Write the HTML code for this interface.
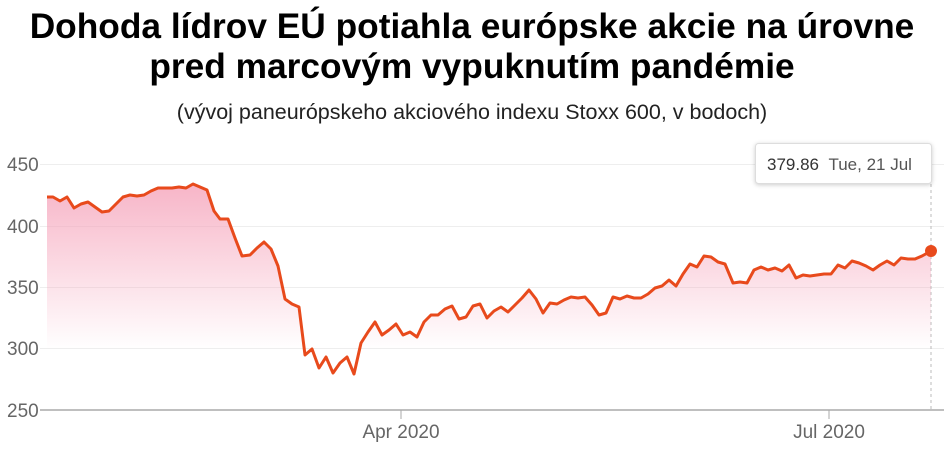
<!DOCTYPE html>
<html><head><meta charset="utf-8"><style>
body{margin:0;width:944px;height:454px;background:#fff;overflow:hidden;font-family:"Liberation Sans",Arial,sans-serif}
.t{position:absolute;left:0;width:944px;text-align:center;font-weight:bold;font-size:35.3px;line-height:40px;top:7px;color:#000;white-space:nowrap}
.s{position:absolute;left:0;width:944px;text-align:center;font-size:21.5px;top:100px;color:#222;white-space:nowrap}
</style></head><body>
<div class="t">Dohoda lídrov EÚ potiahla európske akcie na úrovne<br>pred marcovým vypuknutím pandémie</div>
<div class="s">(vývoj paneurópskeho akciového indexu Stoxx 600, v bodoch)</div>
<svg width="944" height="454" style="position:absolute;left:0;top:0">
<defs><linearGradient id="g" gradientUnits="userSpaceOnUse" x1="0" y1="180" x2="0" y2="350"><stop offset="0" stop-color="#f5a0b8" stop-opacity="0.8"/><stop offset="1" stop-color="#f5a0b8" stop-opacity="0"/></linearGradient></defs>
<g stroke="#eeeeee" stroke-width="1">
<line x1="40" x2="944" y1="164.5" y2="164.5"/><line x1="40" x2="944" y1="226.5" y2="226.5"/><line x1="40" x2="944" y1="287.5" y2="287.5"/><line x1="40" x2="944" y1="348.5" y2="348.5"/></g>
<line x1="40" x2="944" y1="410" y2="410" stroke="#aaa" stroke-width="1.5"/>
<line x1="401" x2="401" y1="410" y2="419" stroke="#aaa"/><line x1="829" x2="829" y1="410" y2="419" stroke="#aaa"/>
<g font-size="19" fill="#666"><text x="7" y="171">450</text><text x="7" y="233">400</text><text x="7" y="294">350</text><text x="7" y="355">300</text><text x="7" y="417">250</text>
<text x="401" y="438" text-anchor="middle">Apr 2020</text><text x="829" y="438" text-anchor="middle">Jul 2020</text></g>
<line x1="931" x2="931" y1="184" y2="410" stroke="#bbb" stroke-dasharray="3,3"/>
<polygon fill="url(#g)" points="47,410 47,197 53,197 60,201 67,197 74,208 81,204 88,202 95,207 102,212 109,211 116,204 123,197 130,195 137,196 144,195 151,191 158,188 165,188 172,188 179,187 186,188 193,184 200,187 207,190 214,211 220,219 228,219 235,238 242,256 250,255 257,248 264,242 271,249 278,266 285,299 292,304 299,307 305,355 312,349 319,368 326,357 333,373 340,363 347,357 354,374 361,343 368,332 375,322 382,335 389,330 396,324 403,335 410,332 417,337 424,322 431,315 438,315 445,309 452,306 459,319 466,317 473,306 480,304 487,318 494,311 501,307 508,312 515,305 522,298 529,290 536,299 543,313 550,303 557,304 564,300 571,297 578,298 585,297 592,305 599,315 606,313 613,297 620,299 627,296 634,298 641,298 648,294 655,288 662,286 669,280 676,286 683,274 690,264 697,267 704,256 711,257 718,262 725,264 733,283 740,282 747,283 754,270 761,267 768,270 775,268 782,271 789,265 796,278 803,275 810,276 817,275 824,274 831,274 838,265 845,268 852,261 859,263 866,266 873,270 880,265 887,261 894,265 901,258 908,259 915,259 922,256 931,251 931,410"/>
<polyline fill="none" stroke="#e84a1c" stroke-width="3" stroke-linejoin="round" points="47,197 53,197 60,201 67,197 74,208 81,204 88,202 95,207 102,212 109,211 116,204 123,197 130,195 137,196 144,195 151,191 158,188 165,188 172,188 179,187 186,188 193,184 200,187 207,190 214,211 220,219 228,219 235,238 242,256 250,255 257,248 264,242 271,249 278,266 285,299 292,304 299,307 305,355 312,349 319,368 326,357 333,373 340,363 347,357 354,374 361,343 368,332 375,322 382,335 389,330 396,324 403,335 410,332 417,337 424,322 431,315 438,315 445,309 452,306 459,319 466,317 473,306 480,304 487,318 494,311 501,307 508,312 515,305 522,298 529,290 536,299 543,313 550,303 557,304 564,300 571,297 578,298 585,297 592,305 599,315 606,313 613,297 620,299 627,296 634,298 641,298 648,294 655,288 662,286 669,280 676,286 683,274 690,264 697,267 704,256 711,257 718,262 725,264 733,283 740,282 747,283 754,270 761,267 768,270 775,268 782,271 789,265 796,278 803,275 810,276 817,275 824,274 831,274 838,265 845,268 852,261 859,263 866,266 873,270 880,265 887,261 894,265 901,258 908,259 915,259 922,256 931,251"/>
<circle cx="931" cy="251" r="6" fill="#e84a1c"/>
<rect x="755.5" y="143.5" width="176" height="40" rx="3" fill="#fff" stroke="#ddd" style="filter:drop-shadow(0 1px 2px rgba(0,0,0,0.2))"/>
<text x="767" y="170" font-size="17" fill="#333">379.86 <tspan fill="#555">&#160;Tue, 21 Jul</tspan></text>
</svg>
</body></html>
